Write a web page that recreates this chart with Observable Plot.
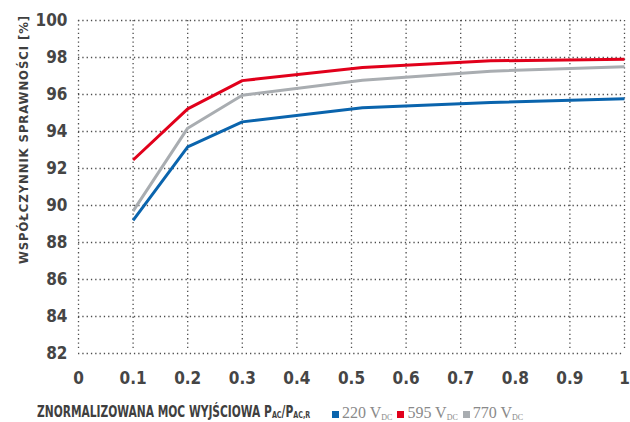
<!DOCTYPE html>
<html>
<head>
<meta charset="utf-8">
<script src="https://cdn.jsdelivr.net/npm/d3@7"></script>
<script src="https://cdn.jsdelivr.net/npm/@observablehq/plot@0.6"></script>
<style>
  html, body { margin: 0; padding: 0; background: #fff; }
  #chart { width: 630px; height: 422px; position: relative; overflow: hidden; }
  g[aria-label="text"] text { letter-spacing: 0.9px; }
  #bottom { position: absolute; left: 0; top: 392px; width: 630px; height: 30px; }
  #xlabel { position: absolute; left: 37px; top: 13px; font-family: "DejaVu Sans Condensed", "DejaVu Sans", sans-serif; font-weight: bold; font-size: 15px; line-height: 15px; color: #3f3f3f; white-space: nowrap; transform: scaleX(0.79); transform-origin: 0 0; }
  #xlabel sub { font-size: 9px; line-height: 9px; vertical-align: -1px; }
  #legend { position: absolute; left: 332px; top: 13px; font-family: "Liberation Serif", "DejaVu Serif", serif; font-size: 16px; line-height: 15px; color: #8a8a8a; white-space: nowrap; }
  #legend .item { margin-right: 5px; }
  #legend .sw { display: inline-block; width: 7px; height: 7px; margin-right: 3px; vertical-align: 0px; }
  #legend sub { font-size: 8px; line-height: 8px; vertical-align: -2px; }
</style>
</head>
<body>
<div id="chart"></div>
<script>
// Data
const xs = [0.1, 0.2, 0.3, 0.52, 0.755, 1.0];
const series220 = [89.2, 93.17, 94.52, 95.28, 95.57, 95.77];
const series595 = [92.46, 95.22, 96.75, 97.46, 97.82, 97.9];
const series770 = [89.7, 94.18, 95.96, 96.77, 97.26, 97.5];
const seriesNames = ["220", "595", "770"];
const seriesColors = ["#0a64ad", "#e1001b", "#a9adb1"];
const xTicks = [0, 0.1, 0.2, 0.3, 0.4, 0.5, 0.6, 0.7, 0.8, 0.9, 1];
const yTicks = [82, 84, 86, 88, 90, 92, 94, 96, 98, 100];
const yLabel = "WSPÓŁCZYNNIK SPRAWNOŚCI [%]";

const allSeries = [series220, series595, series770];
const rows = [];
allSeries.forEach((vals, si) => {
  vals.forEach((v, i) => rows.push({x: xs[i], y: v, s: seriesNames[si]}));
});

const tickFont = "'DejaVu Sans Condensed', 'DejaVu Sans', sans-serif";
const gridColor = "#4d4d4d";

const plot = Plot.plot({
  width: 630,
  height: 392,
  marginLeft: 78,
  marginRight: 6,
  marginTop: 20,
  marginBottom: 39,
  style: { fontFamily: tickFont, fontSize: "17px", fontWeight: "bold", color: "#454545", background: "transparent" },
  x: { domain: [0, 1], ticks: xTicks, tickFormat: d => String(d) },
  y: { domain: [82, 100], ticks: yTicks, tickFormat: d => String(d) },
  color: { domain: seriesNames, range: seriesColors },
  marks: [
    Plot.ruleY(yTicks, { stroke: gridColor, strokeWidth: 1.3, strokeDasharray: "1.3,3", x1: 0, x2: 1 }),
    Plot.ruleX(xTicks, { stroke: gridColor, strokeWidth: 1.3, strokeDasharray: "1.3,3", y1: 82, y2: 100, insetTop: -5 }),
    Plot.axisX({ ticks: xTicks, tickFormat: d => String(d), tickSize: 0, tickPadding: 18, label: null, fontSize: 17 }),
    Plot.axisY({ ticks: yTicks, tickFormat: d => String(d), tickSize: 0, tickPadding: 11, label: null, fontSize: 17 }),
    Plot.line(rows, { x: "x", y: "y", z: "s", stroke: "s", strokeWidth: 3, strokeLinejoin: "miter", strokeLinecap: "butt" }),
    Plot.text([yLabel], { text: d => d, frameAnchor: "top-left", rotate: -90, dx: -60, dy: 119, fontSize: 13, fontWeight: "bold", fill: "#3f3f3f", textAnchor: "middle" })
  ]
});

const chart = document.getElementById("chart");
chart.appendChild(plot);

const bottom = document.createElement("div");
bottom.id = "bottom";
const xl = document.createElement("div");
xl.id = "xlabel";
xl.innerHTML = "ZNORMALIZOWANA MOC WYJŚCIOWA P<sub>AC</sub>/P<sub>AC,R</sub>";
bottom.appendChild(xl);
const lg = document.createElement("div");
lg.id = "legend";
seriesNames.forEach((n, i) => {
  const it = document.createElement("span");
  it.className = "item";
  it.innerHTML = `<span class="sw" style="background:${seriesColors[i]}"></span>${n} V<sub>DC</sub>`;
  lg.appendChild(it);
});
bottom.appendChild(lg);
chart.appendChild(bottom);
</script>
</body>
</html>
